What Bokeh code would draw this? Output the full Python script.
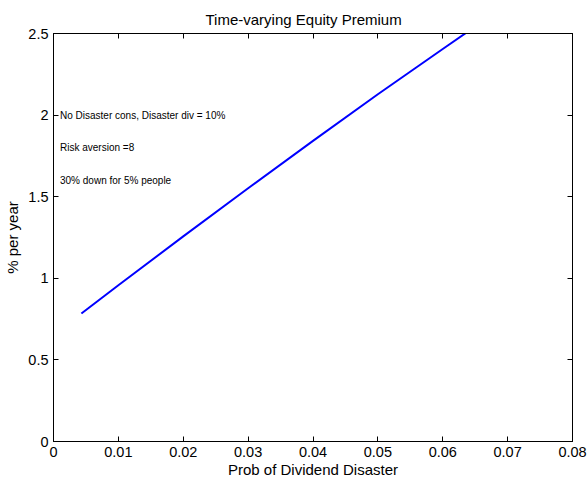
from bokeh.plotting import figure
from bokeh.models import LinearAxis, FixedTicker, Range1d, ColumnDataSource
from bokeh.core.properties import value
from bokeh.embed import file_html
from bokeh.resources import INLINE

# ---- data ----
prob = [0.0043, 0.01, 0.02, 0.03, 0.04, 0.05, 0.06, 0.07]
premium = [0.784, 0.957, 1.257, 1.552, 1.842, 2.128, 2.405, 2.68]

x_ticks = [0, 0.01, 0.02, 0.03, 0.04, 0.05, 0.06, 0.07, 0.08]
x_tick_labels = ["0", "0.01", "0.02", "0.03", "0.04", "0.05", "0.06", "0.07", "0.08"]
y_ticks = [0, 0.5, 1, 1.5, 2, 2.5]
y_tick_labels = ["0", "0.5", "1", "1.5", "2", "2.5"]

notes = ["No Disaster cons, Disaster div = 10%", "Risk aversion =8", "30% down for 5% people"]
notes_x = [0.001, 0.001, 0.001]
notes_y = [2.0, 1.8, 1.6]

FONT = "Liberation Sans"

p = figure(frame_width=519, frame_height=408, x_range=Range1d(0, 0.08), y_range=Range1d(0, 2.5),
           output_backend="svg", toolbar_location=None,
           min_border_left=53, min_border_right=16, min_border_top=33, min_border_bottom=37,
           title="Time-varying Equity Premium")
p.title.align = "left"
p.title.offset = 152
p.title.text_font = FONT
p.title.text_font_size = "15px"
p.title.text_font_style = "normal"
p.title.text_color = "black"
p.title.standoff = 11
p.outline_line_color = "black"
p.outline_line_width = 1
p.xgrid.visible = False
p.ygrid.visible = False

def style_axis(ax, ticks, labels, show_labels=True):
    ax.ticker = FixedTicker(ticks=ticks)
    ax.major_label_overrides = dict(zip(ticks, labels))
    ax.major_tick_in = 5
    ax.major_tick_out = 0
    ax.major_tick_line_width = 1
    ax.minor_tick_line_color = None
    ax.axis_line_color = "black"
    ax.major_tick_line_color = "black"
    ax.major_label_text_font = FONT
    ax.axis_label_text_font = FONT
    ax.axis_label_text_font_size = "15px"
    ax.axis_label_text_font_style = "normal"
    ax.axis_label_text_color = "black"
    if show_labels:
        ax.major_label_text_color = "black"
        ax.major_label_text_font_size = "14.5px"
        ax.major_label_standoff = 5
    else:
        ax.major_label_text_color = None
        ax.major_label_text_font_size = "1px"
        ax.major_label_standoff = 0

style_axis(p.xaxis[0], x_ticks, x_tick_labels)
style_axis(p.yaxis[0], y_ticks, y_tick_labels)
p.xaxis[0].axis_label = "Prob of Dividend Disaster"
p.yaxis[0].axis_label = "% per year"
p.xaxis[0].major_label_standoff = 5
p.xaxis[0].axis_label_standoff = 1
p.yaxis[0].axis_label_standoff = 4

top = LinearAxis()
style_axis(top, x_ticks, x_tick_labels, show_labels=False)
p.add_layout(top, "above")
right = LinearAxis()
style_axis(right, y_ticks, y_tick_labels, show_labels=False)
p.add_layout(right, "right")

p.line(prob, premium, line_color="#0000ff", line_width=2)

src = ColumnDataSource(dict(x=notes_x, y=notes_y, t=notes))
p.text(x="x", y="y", text="t", source=src, text_font=value(FONT), text_font_size="10px",
       text_baseline="middle", text_align="left", text_color="black")

open("out.html", "w").write(file_html(p, INLINE))
